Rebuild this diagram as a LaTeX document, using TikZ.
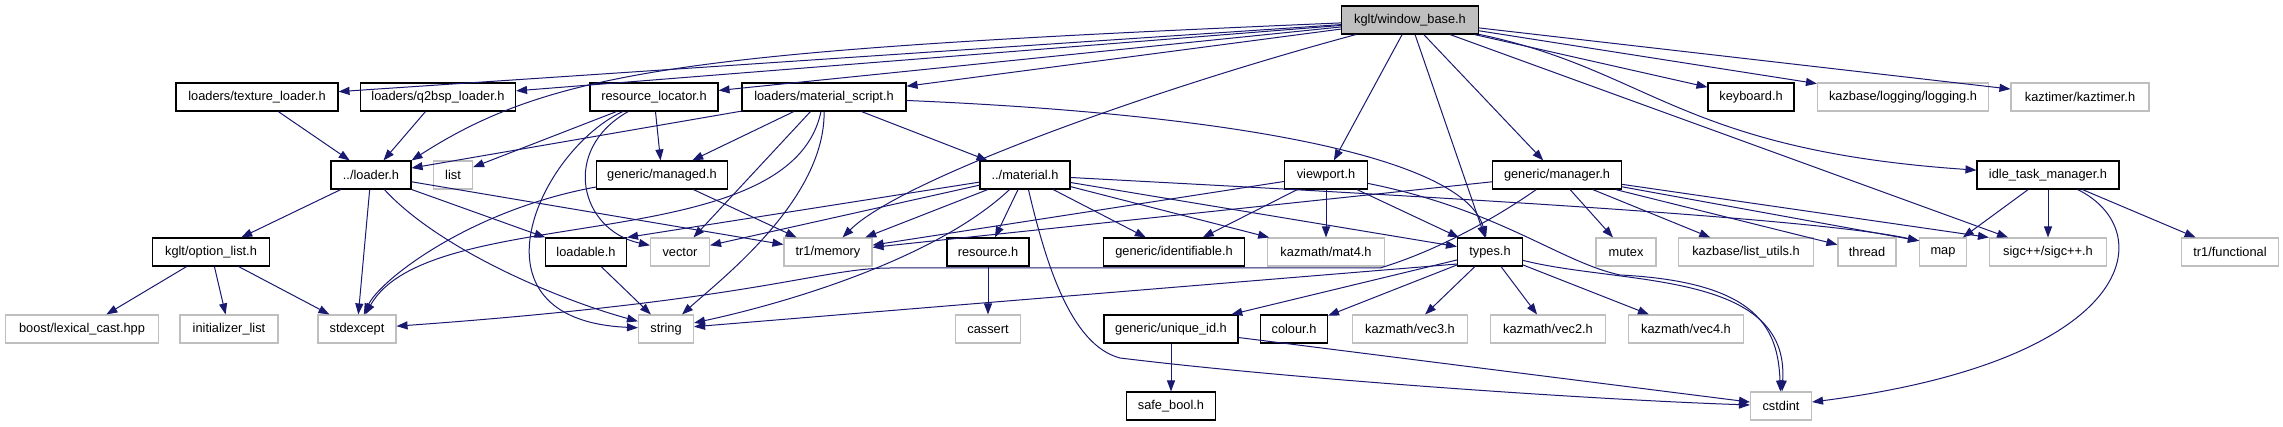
\documentclass[tikz,border=0pt]{standalone}
\usepackage{fontspec}
\setmainfont{Liberation Sans}
\usetikzlibrary{arrows.meta}
\definecolor{dxblue}{HTML}{191970}
\definecolor{dxgray}{HTML}{BFBFBF}

\begin{document}
\begin{tikzpicture}[x=1pt,y=-1pt,
every node/.style={draw, line width=1.1pt, minimum height=28, inner sep=0pt, font=\fontsize{12.8}{14}\selectfont},
ext/.style={draw=dxgray},
root/.style={fill=dxgray},
dep/.style={draw=dxblue, line width=1pt, -{Triangle[length=11pt,width=8pt]}}]
\useasboundingbox (0,0) rectangle (2283,427);

\node[root, minimum width=137] (wb) at (1410,20) {kglt/window\_base.h};

\node[minimum width=162] (tex) at (257,97) {loaders/texture\_loader.h};
\node[minimum width=155] (q2b) at (438,97) {loaders/q2bsp\_loader.h};
\node[minimum width=128] (rloc) at (654,97) {resource\_locator.h};
\node[minimum width=164] (mscr) at (824,97) {loaders/material\_script.h};
\node[minimum width=86] (kbd) at (1751,97) {keyboard.h};
\node[ext, minimum width=171] (log) at (1903,97) {kazbase/logging/logging.h};
\node[ext, minimum width=138] (ktm) at (2080,97) {kaztimer/kaztimer.h};

\node[minimum width=80] (ldr) at (371,175) {../loader.h};
\node[ext, minimum width=39] (lst) at (453,175) {list};
\node[minimum width=131] (mgd) at (662,175) {generic/managed.h};
\node[minimum width=90] (mat) at (1025,175) {../material.h};
\node[minimum width=83] (vp) at (1326,175) {viewport.h};
\node[minimum width=129] (mgr) at (1557,175) {generic/manager.h};
\node[minimum width=142] (itm) at (2048,175) {idle\_task\_manager.h};

\node[minimum width=117] (opt) at (211,252) {kglt/option\_list.h};
\node[minimum width=81] (lda) at (586,252) {loadable.h};
\node[ext, minimum width=59] (vec) at (680,252) {vector};
\node[ext, minimum width=88] (mem) at (828,252) {tr1/memory};
\node[minimum width=82] (res) at (988,252) {resource.h};
\node[minimum width=141] (idf) at (1174,252) {generic/identifiable.h};
\node[ext, minimum width=117] (m4) at (1326,252) {kazmath/mat4.h};
\node[minimum width=65] (typ) at (1490,252) {types.h};
\node[ext, minimum width=60] (mtx) at (1626,252) {mutex};
\node[ext, minimum width=135] (lutl) at (1746,252) {kazbase/list\_utils.h};
\node[ext, minimum width=58] (thr) at (1867,252) {thread};
\node[ext, minimum width=47] (map) at (1943,252) {map};
\node[ext, minimum width=117] (sigc) at (2048,252) {sigc++/sigc++.h};
\node[ext, minimum width=97] (func) at (2230,252) {tr1/functional};

\node[ext, minimum width=153] (lex) at (82,329) {boost/lexical\_cast.hpp};
\node[ext, minimum width=98] (ilst) at (229,329) {initializer\_list};
\node[ext, minimum width=78] (sexc) at (357,329) {stdexcept};
\node[ext, minimum width=55] (str) at (666,329) {string};
\node[ext, minimum width=65] (cas) at (988,329) {cassert};
\node[minimum width=134] (uid) at (1171,329) {generic/unique\_id.h};
\node[minimum width=67] (col) at (1294,329) {colour.h};
\node[ext, minimum width=115] (v3) at (1410,329) {kazmath/vec3.h};
\node[ext, minimum width=115] (v2) at (1548,329) {kazmath/vec2.h};
\node[ext, minimum width=115] (v4) at (1686,329) {kazmath/vec4.h};

\node[minimum width=89] (sb) at (1171,406) {safe\_bool.h};
\node[ext, minimum width=61] (cint) at (1781,406) {cstdint};

\draw[dep] (wb) -- (tex);
\draw[dep] (wb) -- (q2b);
\draw[dep] (wb) .. controls (700,50) and (555,68) .. (ldr.north east);
\draw[dep] (wb) -- (rloc);
\draw[dep] (wb) -- (mscr);
\draw[dep] (wb) .. controls (1150,90) and (900,180) .. (mem);
\draw[dep] (wb) -- (vp);
\draw[dep] (wb) -- (typ);
\draw[dep] (wb) -- (mgr);
\draw[dep] (wb) -- (kbd);
\draw[dep] (wb) -- (log);
\draw[dep] (wb) -- (ktm);
\draw[dep] (wb) .. controls (1650,70) and (1680,150) .. (itm);
\draw[dep] (wb) -- (sigc);

\draw[dep] (tex) -- (ldr);
\draw[dep] (q2b) -- (ldr);

\draw[dep] (rloc) -- (lst);
\draw[dep] (rloc) -- (mgd);
\draw[dep] (rloc) .. controls (560,150) and (580,230) .. (vec);
\draw[dep] (rloc) .. controls (540,150) and (460,320) .. (str);

\draw[dep] (mscr) -- (ldr);
\draw[dep] (mscr) -- (mgd);
\draw[dep] (mscr) -- (mat);
\draw[dep] (mscr) .. controls (1250,115) and (1465,160) .. (typ);
\draw[dep] (mscr) .. controls (790,260) and (430,200) .. (sexc);
\draw[dep] (mscr) -- (vec);
\draw[dep] (mscr) .. controls (825,200) and (720,280) .. (str);

\draw[dep] (ldr) -- (opt);
\draw[dep] (ldr) -- (sexc);
\draw[dep] (ldr) .. controls (440,250) and (560,300) .. (str);
\draw[dep] (ldr) -- (lda);
\draw[dep] (ldr) -- (mem);

\draw[dep] (mgd) .. controls (470,210) and (380,280) .. (sexc);
\draw[dep] (mgd) -- (mem);

\draw[dep] (mat) -- (lda.north east);
\draw[dep] (mat) -- (vec);
\draw[dep] (mat) -- (mem);
\draw[dep] (mat) .. controls (940,255) and (800,300) .. (str);
\draw[dep] (mat) -- (res);
\draw[dep] (mat) .. controls (1045,260) and (1070,345) .. (1120,358)
  .. controls (1300,380) and (1600,400) .. (cint);
\draw[dep] (mat) -- (idf);
\draw[dep] (mat) -- (m4);
\draw[dep] (mat) .. controls (1300,190) and (1800,215) .. (map.155);
\draw[dep] (mat) -- (typ);

\draw[dep] (vp) -- (mem);
\draw[dep] (vp) -- (idf);
\draw[dep] (vp) -- (m4);
\draw[dep] (vp) -- (typ);
\draw[dep] (vp) .. controls (1500,210) and (1560,262) .. (1620,275)
  .. controls (1760,282) and (1778,330) .. (cint);

\draw[dep] (mgr) -- (mem);
\draw[dep] (mgr) .. controls (1500,215) and (1440,250) .. (1380,268) -- (890,268)
  .. controls (820,268) and (760,300) .. (sexc);
\draw[dep] (mgr) -- (mtx);
\draw[dep] (mgr) -- (lutl);
\draw[dep] (mgr) -- (thr);
\draw[dep] (mgr) -- (map.155);
\draw[dep] (mgr) -- (sigc.north west);

\draw[dep] (itm) -- (map);
\draw[dep] (itm) -- (sigc);
\draw[dep] (itm) -- (func);
\draw[dep] (itm) .. controls (2160,230) and (2140,360) .. (cint);

\draw[dep] (opt) -- (lex);
\draw[dep] (opt) -- (ilst);
\draw[dep] (opt) -- (sexc);

\draw[dep] (lda) -- (str);
\draw[dep] (res) -- (cas);

\draw[dep] (typ.200) -- (str);
\draw[dep] (typ) -- (uid);
\draw[dep] (typ) -- (col);
\draw[dep] (typ) -- (v3);
\draw[dep] (typ) -- (v2);
\draw[dep] (typ) -- (v4);
\draw[dep] (typ) .. controls (1620,285) and (1790,270) .. (cint);

\draw[dep] (uid) -- (sb);
\draw[dep] (uid) -- (cint);
\end{tikzpicture}
\end{document}
